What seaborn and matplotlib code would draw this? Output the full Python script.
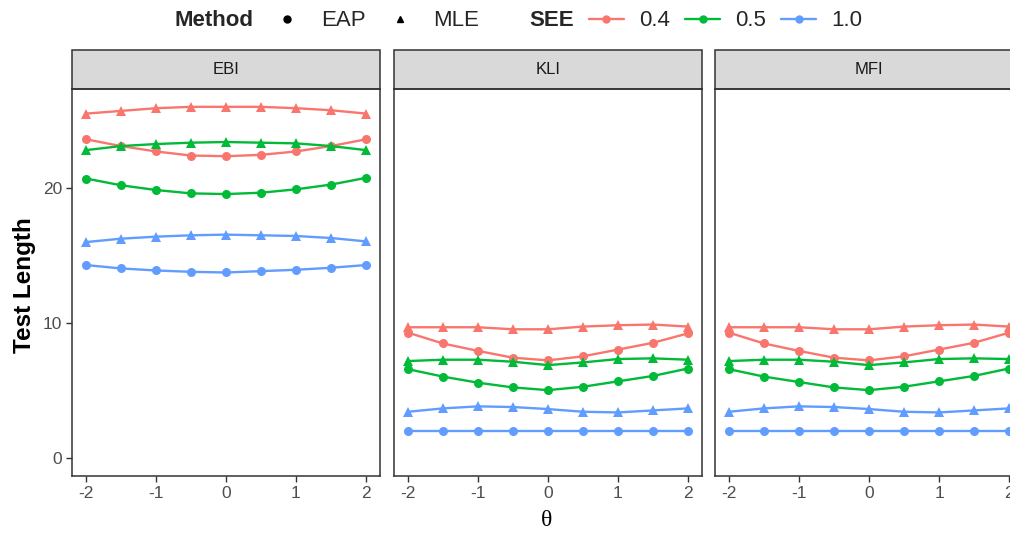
import numpy as np
import pandas as pd
import matplotlib
matplotlib.use("Agg")
import matplotlib.pyplot as plt
from matplotlib.lines import Line2D
from matplotlib.patches import Rectangle
import seaborn as sns

theta = [-2.0, -1.5, -1.0, -0.5, 0.0, 0.5, 1.0, 1.5, 2.0]
panels = ["EBI", "KLI", "MFI"]
methods = ["EAP", "MLE"]
see_levels = ["0.4", "0.5", "1.0"]

ebi_eap_04 = [23.6, 23.1, 22.7, 22.4, 22.35, 22.45, 22.7, 23.1, 23.6]
ebi_mle_04 = [25.5, 25.7, 25.9, 26.0, 26.0, 26.0, 25.9, 25.75, 25.5]
ebi_eap_05 = [20.7, 20.2, 19.85, 19.6, 19.55, 19.65, 19.9, 20.25, 20.75]
ebi_mle_05 = [22.8, 23.1, 23.25, 23.35, 23.4, 23.35, 23.3, 23.1, 22.8]
ebi_eap_10 = [14.3, 14.05, 13.9, 13.8, 13.75, 13.85, 13.95, 14.1, 14.3]
ebi_mle_10 = [16.0, 16.25, 16.4, 16.5, 16.55, 16.5, 16.45, 16.3, 16.05]

kli_eap_04 = [9.3, 8.5, 7.95, 7.45, 7.25, 7.55, 8.05, 8.55, 9.25]
kli_mle_04 = [9.7, 9.7, 9.7, 9.55, 9.55, 9.75, 9.85, 9.9, 9.75]
kli_eap_05 = [6.6, 6.05, 5.6, 5.25, 5.05, 5.3, 5.7, 6.1, 6.65]
kli_mle_05 = [7.2, 7.3, 7.3, 7.15, 6.9, 7.1, 7.35, 7.4, 7.3]
kli_eap_10 = [2.0, 2.0, 2.0, 2.0, 2.0, 2.0, 2.0, 2.0, 2.0]
kli_mle_10 = [3.45, 3.7, 3.85, 3.8, 3.65, 3.45, 3.4, 3.55, 3.7]

mfi_eap_04 = [9.3, 8.5, 7.95, 7.45, 7.25, 7.55, 8.05, 8.55, 9.3]
mfi_mle_04 = [9.7, 9.7, 9.7, 9.55, 9.55, 9.75, 9.85, 9.9, 9.75]
mfi_eap_05 = [6.6, 6.05, 5.65, 5.25, 5.05, 5.3, 5.7, 6.1, 6.65]
mfi_mle_05 = [7.2, 7.3, 7.3, 7.15, 6.9, 7.1, 7.35, 7.4, 7.35]
mfi_eap_10 = [2.0, 2.0, 2.0, 2.0, 2.0, 2.0, 2.0, 2.0, 2.0]
mfi_mle_10 = [3.45, 3.7, 3.85, 3.8, 3.65, 3.45, 3.4, 3.55, 3.7]

y_ticks = [0, 10, 20]
x_ticks = [-2, -1, 0, 1, 2]

series = {
    ("EBI", "EAP", "0.4"): ebi_eap_04, ("EBI", "MLE", "0.4"): ebi_mle_04,
    ("EBI", "EAP", "0.5"): ebi_eap_05, ("EBI", "MLE", "0.5"): ebi_mle_05,
    ("EBI", "EAP", "1.0"): ebi_eap_10, ("EBI", "MLE", "1.0"): ebi_mle_10,
    ("KLI", "EAP", "0.4"): kli_eap_04, ("KLI", "MLE", "0.4"): kli_mle_04,
    ("KLI", "EAP", "0.5"): kli_eap_05, ("KLI", "MLE", "0.5"): kli_mle_05,
    ("KLI", "EAP", "1.0"): kli_eap_10, ("KLI", "MLE", "1.0"): kli_mle_10,
    ("MFI", "EAP", "0.4"): mfi_eap_04, ("MFI", "MLE", "0.4"): mfi_mle_04,
    ("MFI", "EAP", "0.5"): mfi_eap_05, ("MFI", "MLE", "0.5"): mfi_mle_05,
    ("MFI", "EAP", "1.0"): mfi_eap_10, ("MFI", "MLE", "1.0"): mfi_mle_10,
}
rows = []
for (p, m, s), vals in series.items():
    for t, v in zip(theta, vals):
        rows.append({"Panel": p, "Method": m, "SEE": s, "theta": t, "len": v})
df = pd.DataFrame(rows)

sns.set_theme(style="white")
plt.rcParams["font.family"] = ["Liberation Sans", "DejaVu Sans"]

palette = {"0.4": "#F8766D", "0.5": "#00BA38", "1.0": "#619CFF"}
markers = {"EAP": "o", "MLE": "^"}

W, H = 1010, 533
fig = plt.figure(figsize=(W / 100, H / 100), dpi=100)

top_px, bot_px, strip_top = 89, 476, 50
lefts = [72, 394, 715]
pw = 308
border = "#333333"
for i, p in enumerate(panels):
    ax = fig.add_axes([lefts[i] / W, (H - bot_px) / H, pw / W, (bot_px - top_px) / H])
    sub = df[df.Panel == p]
    sns.lineplot(data=sub, x="theta", y="len", hue="SEE", style="Method",
                 hue_order=see_levels, style_order=methods, palette=palette,
                 markers=markers, dashes=False, linewidth=1.7, markersize=6.5,
                 markeredgewidth=0, legend=False, ax=ax, errorbar=None, sort=True)
    ax.set_xlim(-2.2, 2.2)
    ax.set_ylim(-1.3, 27.32)
    ax.set_xticks(x_ticks)
    ax.set_xticklabels([str(v) for v in x_ticks])
    ax.set_xlabel("")
    ax.set_ylabel("")
    for sp in ax.spines.values():
        sp.set_color(border)
        sp.set_linewidth(1.1)
    ax.tick_params(axis="x", bottom=True, length=4, width=1.0, color=border,
                   labelsize=12.5, labelcolor="#4D4D4D", pad=3)
    ax.set_yticks(y_ticks)
    if i == 0:
        ax.tick_params(axis="y", left=True, length=4, width=1.0, color=border,
                       labelsize=12.5, labelcolor="#4D4D4D", pad=3)
    else:
        ax.tick_params(axis="y", left=False, labelleft=False)
    sh = (top_px - strip_top) / (bot_px - top_px)
    ax.add_patch(Rectangle((0, 1), 1, sh, transform=ax.transAxes, clip_on=False,
                           facecolor="#D9D9D9", edgecolor=border, linewidth=1.1))
    ax.text(0.5, 1 + sh / 2, p, transform=ax.transAxes, ha="center", va="center",
            fontsize=12, color="#1A1A1A")

fig.text(25 / W, 1 - 285 / H, "Test Length", rotation=90, ha="center", va="center",
         fontsize=17.5, fontweight="bold", color="black")
fig.text(547 / W, 1 - 521 / H, "θ", ha="center", va="center", fontsize=17,
         family=["Liberation Serif", "DejaVu Serif"], color="black")

# legends
blank = Line2D([], [], linestyle="none", marker=None)
h_method = [blank,
            Line2D([], [], linestyle="none", marker="o", color="black", markersize=5),
            Line2D([], [], linestyle="none", marker="^", color="black", markersize=5)]
leg_y = 1 - 21 / H
leg1 = fig.legend(h_method, ["Method", "EAP", "MLE"], ncol=3, frameon=False,
                  loc="center", bbox_to_anchor=(320 / W, leg_y), fontsize=16,
                  handlelength=1.0, handletextpad=1.0, columnspacing=1.05)
leg1.get_texts()[0].set_fontweight("bold")
h_see = [blank] + [Line2D([], [], color=palette[s], marker="o", markersize=5,
                          linewidth=1.7) for s in see_levels]
leg2 = fig.legend(h_see, ["SEE"] + see_levels, ncol=4, frameon=False,
                  loc="center", bbox_to_anchor=(698 / W, leg_y), fontsize=16,
                  handlelength=1.58, handletextpad=0.68, columnspacing=0.68)
leg2.get_texts()[0].set_fontweight("bold")

# align legend title texts with the reference positions
fig.canvas.draw()
r = fig.canvas.get_renderer()
for leg, target, ax0 in [(leg1, 174, 320), (leg2, 529, 698)]:
    x0 = leg.get_texts()[0].get_window_extent(r).x0
    leg.set_bbox_to_anchor((ax0 + (target - x0)) / W, leg_y) if False else None
    leg.set_bbox_to_anchor(((ax0 + (target - x0)) / W, leg_y), transform=fig.transFigure)

fig.savefig("out.png", dpi=100)
